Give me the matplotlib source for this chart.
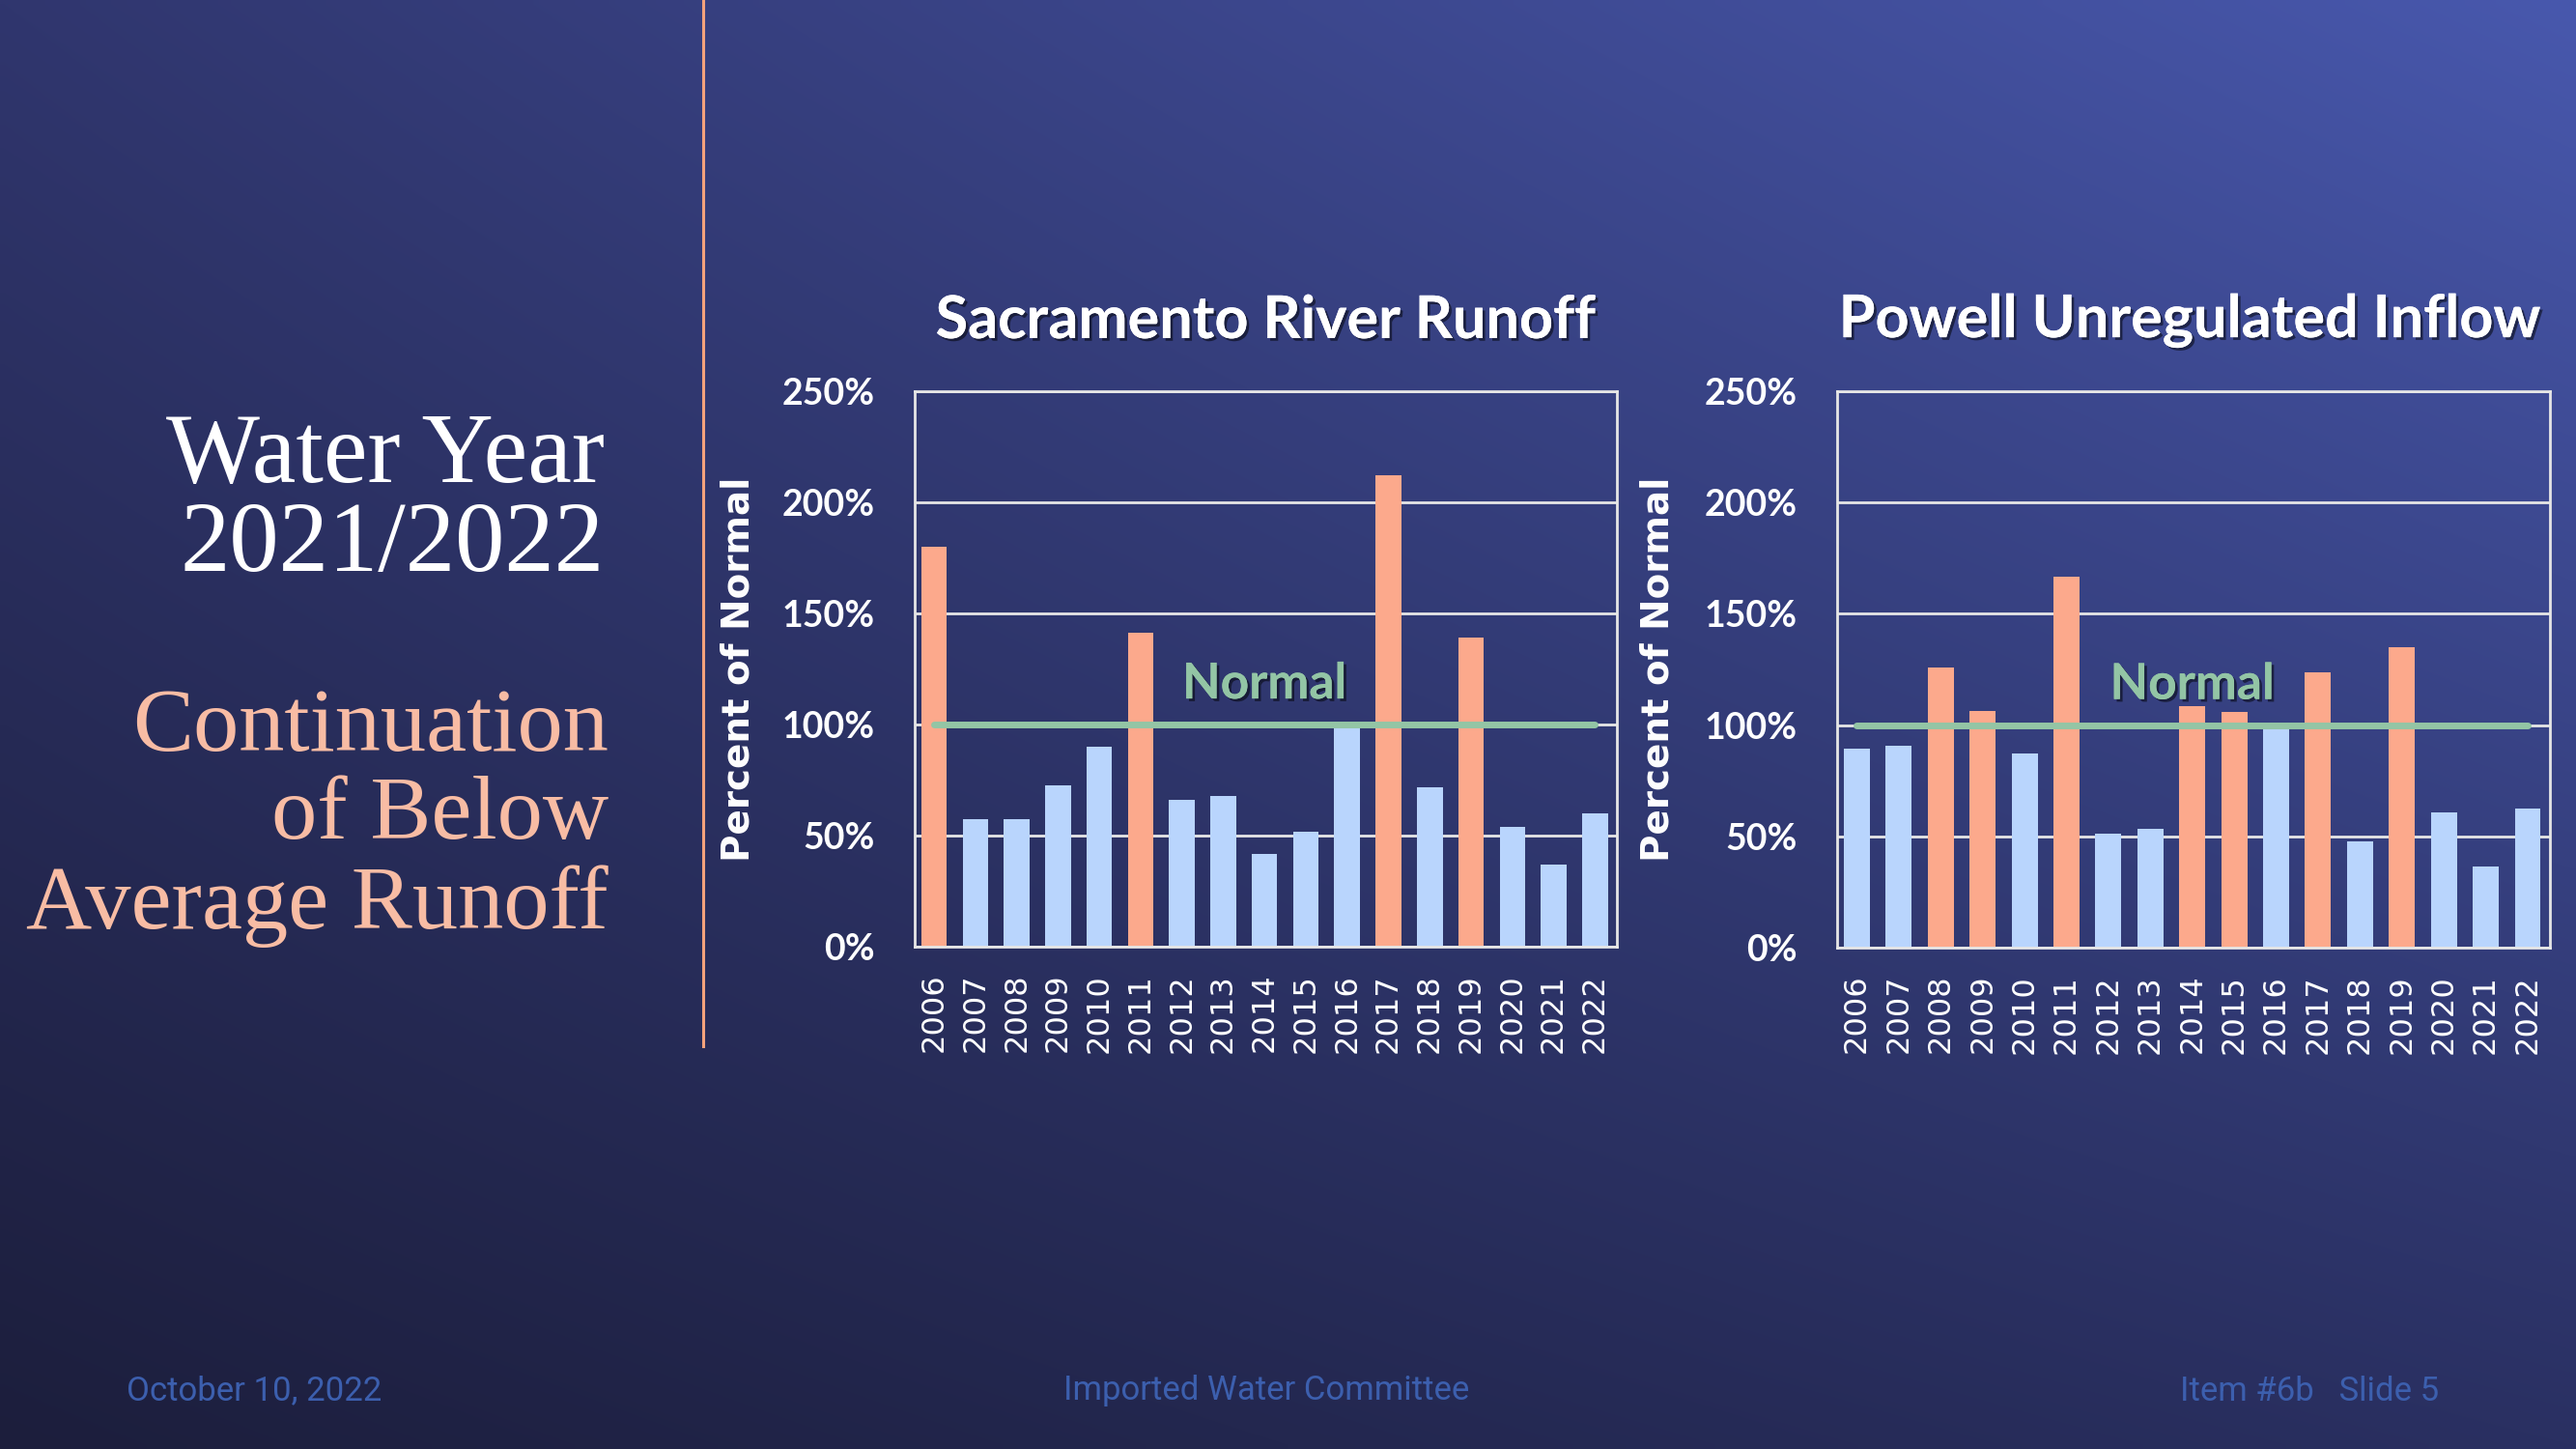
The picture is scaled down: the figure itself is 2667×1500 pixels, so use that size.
import numpy as np
import matplotlib
matplotlib.use('Agg')
import matplotlib.pyplot as plt
import matplotlib.patheffects as pe
from matplotlib.colors import to_rgb

# data
years = [str(y) for y in range(2006, 2023)]
sac_values = [180, 57.6, 57.6, 72.8, 90, 141.4, 66.2, 67.9, 41.7, 51.6, 98.6, 212.2, 71.9, 139, 54.1, 37, 59.8]
powell_values = [89.6, 90.9, 125.8, 106.3, 87.2, 166.5, 51.1, 53.3, 108.4, 106, 98.6, 123.8, 47.7, 135, 60.7, 36.6, 62.7]
y_ticks = [0, 50, 100, 150, 200, 250]
normal = 100

ORANGE = '#fca98c'
BLUE = '#b9d5fd'
GREEN = '#93c5a5'
SALMON = '#f8bca4'
FOOT = '#3c5fae'

W, H = 2667, 1500
fig = plt.figure(figsize=(W / 100, H / 100), dpi=100)

# background gradient
bg = fig.add_axes([0, 0, 1, 1], zorder=-10)
tl, tr = np.array(to_rgb('#30366e')), np.array(to_rgb('#4858ad'))
bl, br = np.array(to_rgb('#1c1e3c')), np.array(to_rgb('#2a3062'))
u = np.linspace(0, 1, 300)[None, :, None]
v = np.linspace(0, 1, 170)[:, None, None]
top = tl * (1 - u) + tr * u
bot = bl * (1 - u) + br * u
grad = top * (1 - v) + bot * v
bg.imshow(grad, aspect='auto', extent=[0, 1, 0, 1], interpolation='bilinear')
bg.set_xlim(0, 1)
bg.set_ylim(0, 1)
bg.axis('off')

# orange divider
bg.plot([728 / W, 728 / W], [1, 1 - 1083 / H], color='#f4a27c', lw=2.2)

# left side text
serif = ['Liberation Serif', 'DejaVu Serif']
fig.text(626 / W, 1 - 474 / H, 'Water Year', ha='right', va='center',
         fontsize=74, color='white', family=serif)
fig.text(626 / W, 1 - 566 / H, '2021/2022', ha='right', va='center',
         fontsize=74, color='white', family=serif)
for txt, yy in [('Continuation', 755), ('of Below', 846), ('Average Runoff', 938)]:
    fig.text(630 / W, 1 - yy / H, txt, ha='right', va='center',
             fontsize=68, color=SALMON, family=serif)

# footer
foot_font = ['Liberation Sans Narrow', 'Roboto']
fig.text(131 / W, 1 - 1440 / H, 'October 10, 2022', ha='left', va='center',
         fontsize=25, color=FOOT, family=foot_font)
fig.text(1311 / W, 1 - 1440 / H, 'Imported Water Committee', ha='center', va='center',
         fontsize=25, color=FOOT, family=foot_font)
fig.text(2257 / W, 1 - 1440 / H, 'Item #6b   Slide 5', ha='left', va='center',
         fontsize=25, color=FOOT, family=foot_font)

shadow = [pe.withSimplePatchShadow(offset=(2, -2), shadow_rgbFace='black', alpha=0.5), pe.Normal()]


def draw_chart(rect, values, title, title_x):
    ax = fig.add_axes(rect)
    ax.patch.set_alpha(0)
    x = np.arange(len(values))
    colors = [ORANGE if val > normal else BLUE for val in values]
    ax.bar(x, values, width=0.62, color=colors, zorder=2)
    ax.plot([0, len(values) - 1], [normal, normal], color=GREEN, lw=5,
            solid_capstyle='round', zorder=3)
    ax.text(8, 118, 'Normal', ha='center', va='center', fontsize=37,
            fontweight='bold', color=GREEN, family='Lato', zorder=4,
            path_effects=shadow)
    ax.set_xlim(-0.47, len(values) - 0.47)
    ax.set_ylim(0, 250)
    ax.set_yticks(y_ticks)
    ax.set_yticklabels([f'{t}%' for t in y_ticks])
    ax.set_xticks(x)
    ax.set_xticklabels(years, rotation=90)
    ax.yaxis.grid(True, color='#e6e6e6', lw=2, zorder=1)
    ax.set_axisbelow(True)
    for s in ax.spines.values():
        s.set_color('#e6e6e6')
        s.set_linewidth(2)
    ax.tick_params(axis='y', length=0, pad=30, labelsize=27, labelcolor='white')
    ax.tick_params(axis='x', length=0, pad=20, labelsize=23, labelcolor='white')
    for lab in ax.get_yticklabels():
        lab.set_fontweight('bold')
        lab.set_family('Lato')
    for lab in ax.get_xticklabels():
        lab.set_family('DejaVu Sans')
    ax.set_ylabel('Percent of Normal', fontsize=28, fontweight='bold',
                  color='white', family='DejaVu Sans')
    ax.yaxis.set_label_coords(-0.225, 0.5)
    fig.text(title_x, 1 - 332 / H, title, ha='center', va='center',
             fontsize=44, fontweight='bold', color='white', family='Lato',
             path_effects=shadow)
    return ax


draw_chart([947 / W, 1 - 980 / H, 727 / W, 575 / H], sac_values,
           'Sacramento River Runoff', 1310 / W)
draw_chart([1902 / W, 1 - 981 / H, 738 / W, 576 / H], powell_values,
           'Powell Unregulated Inflow', 2267 / W)

fig.savefig('out.png', dpi=100)
